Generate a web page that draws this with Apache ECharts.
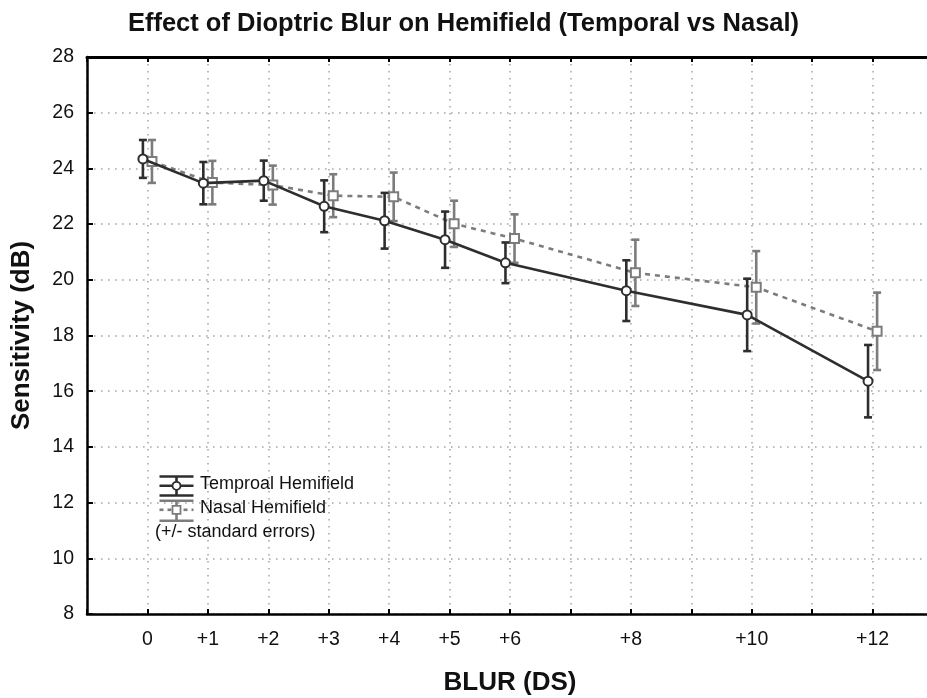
<!DOCTYPE html>
<html>
<head>
<meta charset="utf-8">
<title>Effect of Dioptric Blur on Hemifield</title>
<script src="https://cdn.jsdelivr.net/npm/echarts@6/dist/echarts.min.js"></script>
<style>
  html, body { margin: 0; padding: 0; background: #fff; }
  #chart { width: 927px; height: 698px; }
</style>
</head>
<body>
<div id="chart"></div>
<script>
// Blur levels (dioptres) and mean sensitivity with standard errors per hemifield
const blur = [0, 1, 2, 3, 4, 5, 6, 8, 10, 12];
const temporalMean = [24.34, 23.47, 23.56, 22.64, 22.12, 21.44, 20.61, 19.61, 18.74, 16.36];
const temporalSE   = [0.68, 0.76, 0.72, 0.93, 1.00, 1.01, 0.73, 1.09, 1.30, 1.30];
const nasalMean    = [24.25, 23.49, 23.40, 23.02, 22.98, 22.01, 21.48, 20.25, 19.73, 18.15];
const nasalSE      = [0.77, 0.78, 0.70, 0.77, 0.87, 0.83, 0.87, 1.19, 1.30, 1.39];
const labelledBlur = [0, 1, 2, 3, 4, 5, 6, 8, 10, 12];

const FONT = '"Liberation Sans", Arial, sans-serif';
const DARK = '#2e2e2e';
const GREY = '#7c7c7c';
// small horizontal nudge so the two groups' error bars don't overlap
const NUDGE = 0.075;

function points(mean, shift) {
  return blur.map((b, i) => [b + shift, mean[i]]);
}
function bars(mean, se, shift) {
  return blur.map((b, i) => [b + shift, mean[i] - se[i], mean[i] + se[i]]);
}

function errorBarRenderer(color) {
  return function (params, api) {
    const x = api.value(0);
    const lo = api.coord([x, api.value(1)]);
    const hi = api.coord([x, api.value(2)]);
    const cap = 4;
    const style = { stroke: color, lineWidth: 2.6 };
    return {
      type: 'group',
      children: [
        { type: 'line', shape: { x1: lo[0], y1: lo[1], x2: hi[0], y2: hi[1] }, style },
        { type: 'line', shape: { x1: hi[0] - cap, y1: hi[1], x2: hi[0] + cap, y2: hi[1] }, style },
        { type: 'line', shape: { x1: lo[0] - cap, y1: lo[1], x2: lo[0] + cap, y2: lo[1] }, style }
      ]
    };
  };
}

const dotted = { color: '#a8a8a8', width: 1.6, type: [1.6, 5.4] };

const chart = echarts.init(document.getElementById('chart'), null, { renderer: 'canvas' });

chart.setOption({
  animation: false,
  backgroundColor: '#fff',
  title: {
    text: 'Effect of Dioptric Blur on Hemifield (Temporal vs Nasal)',
    left: 'center',
    top: 6,
    textStyle: { fontFamily: FONT, fontWeight: 'bold', fontSize: 25.5, color: '#111' }
  },
  grid: { left: 87, width: 846, top: 57, bottom: 84, containLabel: false, outerBoundsMode: 'none' },
  xAxis: [
    {
      type: 'value', position: 'bottom', min: -1, max: 13, interval: 1,
      axisLine: { onZero: false, lineStyle: { color: '#000', width: 2.5 } },
      axisTick: { inside: true, length: 5, lineStyle: { color: '#000', width: 2 } },
      axisLabel: {
        margin: 16, fontFamily: FONT, fontSize: 19.5, color: '#111',
        formatter: v => labelledBlur.indexOf(v) < 0 ? '' : (v > 0 ? '+' + v : String(v))
      },
      splitLine: { show: true, lineStyle: dotted },
      name: 'BLUR (DS)', nameLocation: 'middle', nameGap: 56,
      nameTextStyle: { fontFamily: FONT, fontWeight: 'bold', fontSize: 26, color: '#111' }
    },
    {
      type: 'value', position: 'top', min: -1, max: 13, interval: 1,
      axisLine: { onZero: false, lineStyle: { color: '#000', width: 3 } },
      axisTick: { inside: true, length: 5, lineStyle: { color: '#000', width: 2 } },
      axisLabel: { show: false },
      splitLine: { show: false }
    }
  ],
  yAxis: {
    type: 'value', min: 8, max: 28, interval: 2,
    axisLine: { show: true, onZero: false, lineStyle: { color: '#000', width: 2.5 } },
    axisTick: { show: true, inside: true, length: 6, lineStyle: { color: '#000', width: 2 } },
    axisLabel: { margin: 13, fontFamily: FONT, fontSize: 19.5, color: '#111' },
    splitLine: { show: true, lineStyle: dotted },
    name: 'Sensitivity (dB)', nameLocation: 'middle', nameGap: 52,
    nameTextStyle: { fontFamily: FONT, fontWeight: 'bold', fontSize: 26, color: '#111' }
  },
  series: [
    {
      name: 'Nasal SE', type: 'custom', xAxisIndex: 0,
      renderItem: errorBarRenderer(GREY),
      data: bars(nasalMean, nasalSE, NUDGE), z: 2
    },
    {
      name: 'Nasal Hemifield', type: 'line', xAxisIndex: 0,
      data: points(nasalMean, NUDGE),
      symbol: 'emptyRect', symbolSize: 9,
      itemStyle: { color: GREY, borderColor: GREY, borderWidth: 1.8 },
      lineStyle: { color: GREY, width: 2.6, type: [5, 5] }, z: 3
    },
    {
      name: 'Temporal SE', type: 'custom', xAxisIndex: 0,
      renderItem: errorBarRenderer(DARK),
      data: bars(temporalMean, temporalSE, -NUDGE), z: 4
    },
    {
      name: 'Temproal Hemifield', type: 'line', xAxisIndex: 0,
      data: points(temporalMean, -NUDGE),
      symbol: 'emptyCircle', symbolSize: 9,
      itemStyle: { color: DARK, borderColor: DARK, borderWidth: 1.8 },
      lineStyle: { color: DARK, width: 2.6 }, z: 5
    }
  ],
  graphic: [
    {
      type: 'group', left: 157, top: 474,
      children: [
        // Temporal key: error bar with circle marker
        { type: 'line', shape: { x1: 0, y1: 1, x2: 34, y2: 1 }, style: { stroke: DARK, lineWidth: 2.6 } },
        { type: 'line', shape: { x1: 0, y1: 10.3, x2: 34, y2: 10.3 }, style: { stroke: DARK, lineWidth: 2.6 } },
        { type: 'line', shape: { x1: 0, y1: 20, x2: 34, y2: 20 }, style: { stroke: DARK, lineWidth: 2.6 } },
        { type: 'line', shape: { x1: 17, y1: 1, x2: 17, y2: 20 }, style: { stroke: DARK, lineWidth: 2.6 } },
        { type: 'circle', shape: { cx: 17, cy: 10.3, r: 4 }, style: { fill: '#fff', stroke: DARK, lineWidth: 1.8 } },
        // Nasal key: dashed line, bar and square marker
        { type: 'line', shape: { x1: 0, y1: 25.3, x2: 34, y2: 25.3 }, style: { stroke: GREY, lineWidth: 2.6 } },
        { type: 'line', shape: { x1: 0, y1: 34.3, x2: 34, y2: 34.3 }, style: { stroke: GREY, lineWidth: 2.6, lineDash: [4, 4] } },
        { type: 'line', shape: { x1: 0, y1: 45.3, x2: 34, y2: 45.3 }, style: { stroke: GREY, lineWidth: 2.6 } },
        { type: 'line', shape: { x1: 17, y1: 25.3, x2: 17, y2: 45.3 }, style: { stroke: GREY, lineWidth: 2.6 } },
        { type: 'rect', shape: { x: 13, y: 30.3, width: 8, height: 8 }, style: { fill: '#fff', stroke: GREY, lineWidth: 1.8 } }
      ]
    },
    {
      type: 'text', left: 200, top: 475,
      style: { text: 'Temproal Hemifield', font: '18px ' + FONT, fill: '#111' }
    },
    {
      type: 'text', left: 200, top: 499,
      style: { text: 'Nasal Hemifield', font: '18px ' + FONT, fill: '#111' }
    },
    {
      type: 'text', left: 155, top: 523,
      style: { text: '(+/- standard errors)', font: '18px ' + FONT, fill: '#111' }
    }
  ]
});
</script>
</body>
</html>
